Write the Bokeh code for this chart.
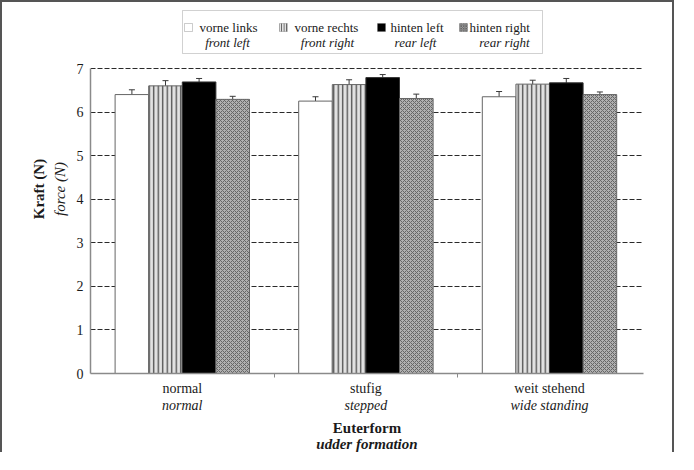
from bokeh.plotting import figure
from bokeh.models import (Range1d, FixedTicker, LinearAxis, ColumnDataSource, Whisker,
                          TeeHead, Label, BoxAnnotation)
from bokeh.transform import dodge
from bokeh.embed import file_html
from bokeh.resources import INLINE

# ---- data ----
categories_de = ["normal", "stufig", "weit stehend"]
categories_en = ["normal", "stepped", "wide standing"]
series_de = ["vorne links", "vorne rechts", "hinten left", "hinten right"]
series_en = ["front left", "front right", "rear left", "rear right"]

vorne_links = [6.41, 6.26, 6.36]
vorne_links_err = [0.11, 0.10, 0.12]
vorne_rechts = [6.61, 6.64, 6.65]
vorne_rechts_err = [0.12, 0.11, 0.09]
hinten_left = [6.70, 6.80, 6.68]
hinten_left_err = [0.08, 0.07, 0.10]
hinten_right = [6.30, 6.32, 6.41]
hinten_right_err = [0.07, 0.10, 0.06]

y_ticks = [0, 1, 2, 3, 4, 5, 6, 7]

values = [vorne_links, vorne_rechts, hinten_left, hinten_right]
errors = [vorne_links_err, vorne_rechts_err, hinten_left_err, hinten_right_err]

FONT = "Liberation Serif"
TXT = "#1a1a1a"

styles = [
    dict(fill_color="white", line_color="#666666"),
    dict(fill_color="#e2e2e2", line_color="#666666", hatch_pattern="vertical_line",
         hatch_color="#4a4a4a", hatch_scale=4.5, hatch_weight=1.3),
    dict(fill_color="black", line_color="#333333"),
    dict(fill_color="#b0b0b0", line_color="#666666", hatch_pattern="diagonal_cross",
         hatch_color="#666666", hatch_scale=4, hatch_weight=1),
]

# frame spans from the top of the legend area down to 0; the axis itself ends at 7
p = figure(width=674, height=452, x_range=Range1d(-0.5, 2.512), y_range=Range1d(0, 8.48),
           output_backend="svg", toolbar_location=None,
           min_border_left=88, min_border_right=33, min_border_top=2, min_border_bottom=81)
p.styles = {"border-left": "2px solid #555555", "border-top": "2px solid #555555",
            "border-right": "2px solid #555555"}
p.outline_line_color = None
p.background_fill_color = "white"
p.border_fill_color = "white"

# data source
data = dict(x=list(range(len(categories_de))))
for i, (v, e) in enumerate(zip(values, errors)):
    data[f"v{i}"] = v
    data[f"up{i}"] = [a + b for a, b in zip(v, e)]
    data[f"lo{i}"] = [a - b for a, b in zip(v, e)]
src = ColumnDataSource(data)

w = 0.183
offsets = [-1.5 * w, -0.5 * w, 0.5 * w, 1.5 * w]
for i, off in enumerate(offsets):
    p.vbar(x=dodge("x", off), top=f"v{i}", bottom=0, width=w, source=src,
           line_width=1, **styles[i])
    wh = Whisker(base=dodge("x", off), upper=f"up{i}", lower=f"lo{i}", source=src,
                 line_color="#3a3a3a", line_width=1,
                 upper_head=TeeHead(size=6, line_color="#3a3a3a", line_width=1),
                 lower_head=TeeHead(size=6, line_color="#3a3a3a", line_width=1))
    p.add_layout(wh)

# grid
p.xgrid.visible = False
p.ygrid.ticker = FixedTicker(ticks=y_ticks)
p.ygrid.grid_line_color = "#2a2a2a"
p.ygrid.grid_line_dash = "5 2"
p.ygrid.grid_line_width = 1

# y axis
ya = p.yaxis[0]
ya.ticker = FixedTicker(ticks=y_ticks)
ya.bounds = (0, 7)
ya.axis_line_color = "#8a8a8a"
ya.axis_line_width = 1.5
ya.major_tick_out = 0
ya.major_tick_in = 0
ya.minor_tick_line_color = None
ya.major_label_standoff = 7
ya.major_label_text_font = FONT
ya.major_label_text_font_size = "14px"
ya.major_label_text_color = TXT
ya.axis_label = "force (N)"
ya.axis_label_text_font = FONT
ya.axis_label_text_font_size = "15px"
ya.axis_label_text_font_style = "italic"
ya.axis_label_text_color = TXT
ya.axis_label_standoff = 6

ya2 = LinearAxis(ticker=FixedTicker(ticks=[]), bounds=(0, 7), axis_line_color=None,
                 major_tick_line_color=None, minor_tick_line_color=None,
                 major_label_standoff=0, axis_label="Kraft (N)",
                 axis_label_text_font=FONT, axis_label_text_font_size="15px",
                 axis_label_text_font_style="bold", axis_label_text_color=TXT,
                 axis_label_standoff=2)
p.add_layout(ya2, "left")

# x axes
xa = p.xaxis[0]
xa.ticker = FixedTicker(ticks=list(range(len(categories_de))), minor_ticks=[0.5, 1.5])
xa.major_label_overrides = {i: c for i, c in enumerate(categories_de)}
xa.axis_line_color = "#8a8a8a"
xa.axis_line_width = 1.5
xa.major_tick_out = 0
xa.major_tick_in = 0
xa.major_tick_line_color = None
xa.minor_tick_out = 4
xa.minor_tick_in = 0
xa.minor_tick_line_color = "#8a8a8a"
xa.major_label_standoff = 3
xa.major_label_text_font = FONT
xa.major_label_text_font_size = "14px"
xa.major_label_text_color = TXT

# the x title in the original sits a little left of the plot centre
title_bounds = (-0.5, 2.356)

xa2 = LinearAxis(ticker=FixedTicker(ticks=list(range(len(categories_en)))),
                 bounds=title_bounds,
                 major_label_overrides={i: c for i, c in enumerate(categories_en)},
                 axis_line_color=None, major_tick_line_color=None, minor_tick_line_color=None,
                 major_tick_out=0, major_tick_in=0,
                 major_label_standoff=-1, major_label_text_font=FONT,
                 major_label_text_font_size="14px", major_label_text_font_style="italic",
                 major_label_text_color=TXT,
                 axis_label="Euterform", axis_label_text_font=FONT,
                 axis_label_text_font_size="15px", axis_label_text_font_style="bold",
                 axis_label_text_color=TXT, axis_label_standoff=4)
p.add_layout(xa2, "below")

xa3 = LinearAxis(ticker=FixedTicker(ticks=[]), bounds=title_bounds, axis_line_color=None,
                 major_tick_line_color=None, minor_tick_line_color=None,
                 major_label_standoff=0,
                 axis_label="udder formation", axis_label_text_font=FONT,
                 axis_label_text_font_size="15px", axis_label_text_font_style="bold italic",
                 axis_label_text_color=TXT, axis_label_standoff=-3)
p.add_layout(xa3, "below")

# legend (screen units relative to the frame's bottom-left corner)
p.add_layout(BoxAnnotation(left=92, right=452, bottom=320, top=363,
                           left_units="screen", right_units="screen",
                           bottom_units="screen", top_units="screen",
                           fill_color="white", fill_alpha=1, line_color="#666666",
                           line_width=1, level="overlay"))
sw_left = [94, 189, 287, 369]
txt1_left = [109, 204, 300, 379]
txt2_center = [137, 237, 325, 414]
for i in range(4):
    st = styles[i]
    box_kw = dict(fill_color=st["fill_color"], fill_alpha=1, line_color="#555555", line_width=1)
    if "hatch_pattern" in st:
        box_kw.update(hatch_pattern=st["hatch_pattern"], hatch_color=st["hatch_color"],
                      hatch_scale=2.5, hatch_weight=1)
    p.add_layout(BoxAnnotation(left=sw_left[i], right=sw_left[i] + 8, bottom=342, top=350,
                               left_units="screen", right_units="screen",
                               bottom_units="screen", top_units="screen",
                               level="overlay", **box_kw))
    p.add_layout(Label(x=txt1_left[i], y=346, x_units="screen", y_units="screen",
                       text=series_de[i], text_font=FONT, text_font_size="13px",
                       text_color=TXT, text_baseline="middle", text_align="left",
                       level="overlay"))
    p.add_layout(Label(x=txt2_center[i], y=331, x_units="screen", y_units="screen",
                       text=series_en[i], text_font=FONT, text_font_size="13px",
                       text_font_style="italic", text_color=TXT,
                       text_baseline="middle", text_align="center", level="overlay"))

open("out.html", "w").write(file_html(p, INLINE))
